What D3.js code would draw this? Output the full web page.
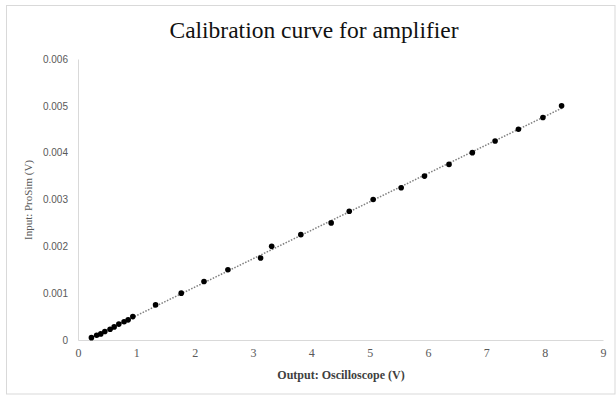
<!DOCTYPE html>
<html>
<head>
<meta charset="utf-8">
<script src="https://cdn.jsdelivr.net/npm/d3@7"></script>
<style>
	body { margin: 0; background: #fff; }
	svg { display: block; }
</style>
</head>
<body>
<div id="chart"></div>
<script>
(function() {
	"use strict";

	// measured points: oscilloscope output (V) vs ProSim input (V)
	var outputVolts = [0.23, 0.32, 0.39, 0.46, 0.55, 0.62, 0.70, 0.79, 0.86, 0.94,
		1.33, 1.77, 2.16, 2.57, 3.13, 3.32, 3.82, 4.34, 4.65, 5.06,
		5.54, 5.94, 6.36, 6.76, 7.15, 7.55, 7.97, 8.29];
	var inputVolts = [0.00005, 0.0001, 0.00013, 0.00018, 0.00023, 0.00028, 0.00034, 0.00039, 0.00043, 0.0005,
		0.00075, 0.001, 0.00125, 0.0015, 0.00175, 0.002, 0.00225, 0.0025, 0.00275, 0.003,
		0.00325, 0.0035, 0.00375, 0.004, 0.00425, 0.0045, 0.00475, 0.005];
	var xTicks = [0, 1, 2, 3, 4, 5, 6, 7, 8, 9];
	var yTicks = [0, 0.001, 0.002, 0.003, 0.004, 0.005, 0.006];

	var width = 616, height = 396;
	var margin = { top: 59, right: 13, bottom: 56, left: 78 };

	var svg = d3.select('#chart')
		.append('svg')
		.attr('width', width)
		.attr('height', height);

	svg.append('rect')
		.attr('x', 6.5).attr('y', 5.5)
		.attr('width', 615 - 6.5).attr('height', 394 - 5.5)
		.attr('fill', '#fff')
		.attr('stroke', '#d9d9d9');

	var x = d3.scaleLinear().domain([0, 9]).range([margin.left, width - margin.right]);
	var y = d3.scaleLinear().domain([0, 0.006]).range([height - margin.bottom, margin.top]);

	svg.append('text')
		.attr('x', 314).attr('y', 38)
		.attr('text-anchor', 'middle')
		.style('font-family', '"Liberation Serif", serif')
		.style('font-size', '23.5px')
		.attr('fill', '#111')
		.text('Calibration curve for amplifier');

	// y axis
	var yAxis = svg.append('g')
		.attr('transform', 'translate(' + margin.left + ',0)')
		.call(d3.axisLeft(y).tickValues(yTicks).tickSize(0).tickPadding(10)
			.tickFormat(function (d) { return d === 0 ? '0' : d3.format('.3f')(d); }));
	yAxis.select('.domain').attr('stroke', '#d9d9d9');
	yAxis.selectAll('text')
		.style('font-family', '"Liberation Sans", sans-serif')
		.style('font-size', '10px')
		.attr('fill', '#595959');

	// x axis
	var xAxis = svg.append('g')
		.attr('transform', 'translate(0,' + y(0) + ')')
		.call(d3.axisBottom(x).tickValues(xTicks).tickSize(0).tickPadding(8));
	xAxis.select('.domain').attr('stroke', '#d9d9d9');
	xAxis.selectAll('text')
		.style('font-family', '"Liberation Serif", serif')
		.style('font-size', '12px')
		.attr('fill', '#595959');

	svg.append('text')
		.attr('x', 341).attr('y', 379)
		.attr('text-anchor', 'middle')
		.style('font-family', '"Liberation Serif", serif')
		.style('font-size', '12px')
		.style('font-weight', '600')
		.attr('fill', '#404040')
		.text('Output: Oscilloscope (V)');

	svg.append('text')
		.attr('transform', 'translate(32,200) rotate(-90)')
		.attr('text-anchor', 'middle')
		.style('font-family', '"Liberation Serif", serif')
		.style('font-size', '11px')
		.attr('fill', '#595959')
		.text('Input: ProSim (V)');

	// least squares trendline
	var points = outputVolts.map(function (v, i) { return [v, inputVolts[i]]; });
	var mx = d3.mean(outputVolts), my = d3.mean(inputVolts);
	var slope = d3.sum(points, function (p) { return (p[0] - mx) * (p[1] - my); }) /
		d3.sum(points, function (p) { return (p[0] - mx) * (p[0] - mx); });
	var intercept = my - slope * mx;
	var ends = d3.extent(outputVolts);

	svg.append('line')
		.attr('x1', x(ends[0])).attr('y1', y(slope * ends[0] + intercept))
		.attr('x2', x(ends[1])).attr('y2', y(slope * ends[1] + intercept))
		.attr('stroke', '#7f7f7f')
		.attr('stroke-width', 1.5)
		.attr('stroke-dasharray', '1.5,1.5');

	svg.append('g')
		.selectAll('circle')
		.data(points)
		.enter()
		.append('circle')
		.attr('cx', function (p) { return x(p[0]); })
		.attr('cy', function (p) { return y(p[1]); })
		.attr('r', 2.8)
		.attr('fill', '#000');
}());
</script>
</body>
</html>
